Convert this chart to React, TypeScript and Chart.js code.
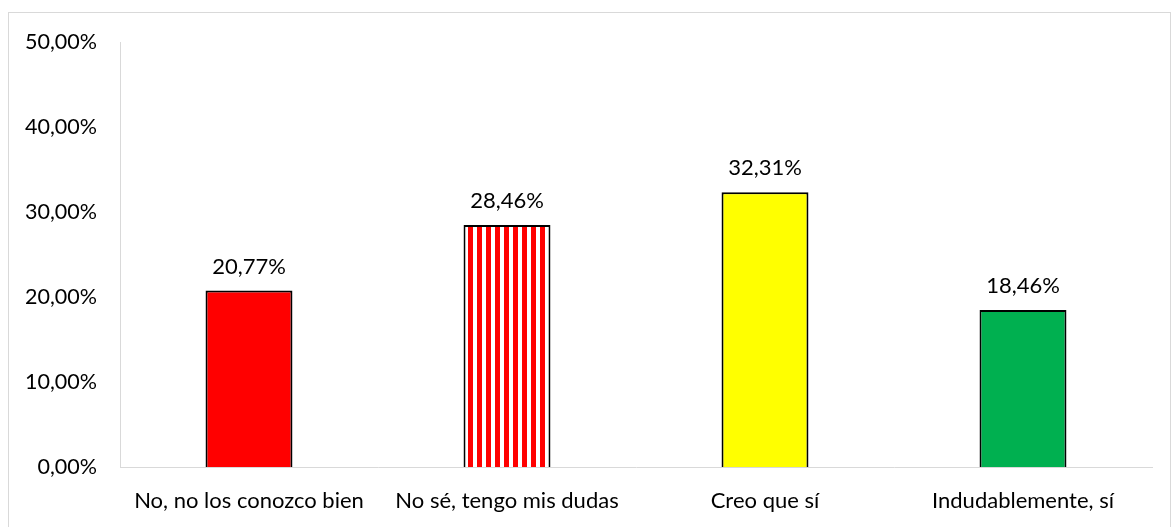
import React, { useEffect, useRef } from "react";
import { Chart, registerables } from "chart.js";

Chart.register(...registerables);

const categories = ["No, no los conozco bien", "No sé, tengo mis dudas", "Creo que sí", "Indudablemente, sí"];
const values = [20.77, 28.46, 32.31, 18.46];
const yTicks = [0, 10, 20, 30, 40, 50];

const FONT = "Lato, 'Open Sans', sans-serif";

function fmt(v: number) {
  return v.toFixed(2).replace(".", ",") + "%";
}

function stripePattern(): CanvasPattern | string {
  const c = document.createElement("canvas");
  c.width = 9;
  c.height = 4;
  const ctx = c.getContext("2d");
  if (!ctx) return "#ff0000";
  ctx.fillStyle = "#ffffff";
  ctx.fillRect(0, 0, 9, 4);
  ctx.fillStyle = "#ff0000";
  ctx.fillRect(0, 0, 5, 4);
  return ctx.createPattern(c, "repeat") || "#ff0000";
}

const labelPlugin = {
  id: "valueLabels",
  afterDatasetsDraw(chart: any) {
    const ctx = chart.ctx;
    const meta = chart.getDatasetMeta(0);
    ctx.save();
    ctx.font = `22px ${FONT}`;
    ctx.fillStyle = "#000000";
    ctx.textAlign = "center";
    ctx.textBaseline = "middle";
    meta.data.forEach((el: any, i: number) => {
      ctx.fillText(fmt(values[i]), el.x, el.y - 24);
    });
    ctx.restore();
  },
};

export default function App() {
  const ref = useRef<HTMLCanvasElement>(null);
  useEffect(() => {
    if (!ref.current) return;
    const chart = new Chart(ref.current, {
      type: "bar",
      data: {
        labels: categories,
        datasets: [
          {
            data: values,
            backgroundColor: ["#ff0000", stripePattern(), "#ffff00", "#00b050"],
            borderColor: "#000000",
            borderWidth: 2,
            borderSkipped: "start",
            barPercentage: 1,
            categoryPercentage: 0.337,
          },
        ],
      },
      options: {
        animation: false,
        responsive: false,
        maintainAspectRatio: false,
        layout: { padding: { top: 42, right: 19, bottom: 0, left: 0 } },
        plugins: { legend: { display: false }, tooltip: { enabled: false } },
        scales: {
          x: {
            grid: { display: false, drawTicks: false },
            border: { display: true, color: "#d9d9d9", width: 1 },
            ticks: { color: "#000000", font: { family: FONT, size: 22 }, padding: 21, maxRotation: 0 },
            afterFit: (s: any) => {
              s.height = 60;
            },
          },
          y: {
            min: 0,
            max: 50,
            grid: { display: false, drawTicks: false },
            border: { display: true, color: "#d9d9d9", width: 1 },
            afterBuildTicks: (s: any) => {
              s.ticks = yTicks.map((v) => ({ value: v }));
            },
            ticks: {
              color: "#000000",
              font: { family: FONT, size: 21.5 },
              padding: 23,
              callback: (v: any) => fmt(Number(v)),
            },
            afterFit: (s: any) => {
              s.width = 120;
            },
          },
        },
      },
      plugins: [labelPlugin],
    });
    return () => chart.destroy();
  }, []);

  return (
    <div>
      <div
        style={{
          position: "fixed",
          left: 8,
          top: 12,
          width: 1161,
          height: 520,
          borderTop: "1px solid #d9d9d9",
          borderLeft: "1px solid #d9d9d9",
          borderRight: "1px solid #d9d9d9",
          background: "#ffffff",
        }}
      />
      <canvas
        ref={ref}
        width={1171}
        height={527}
        style={{ position: "fixed", left: 0, top: 0, width: 1171, height: 527 }}
      />
    </div>
  );
}
